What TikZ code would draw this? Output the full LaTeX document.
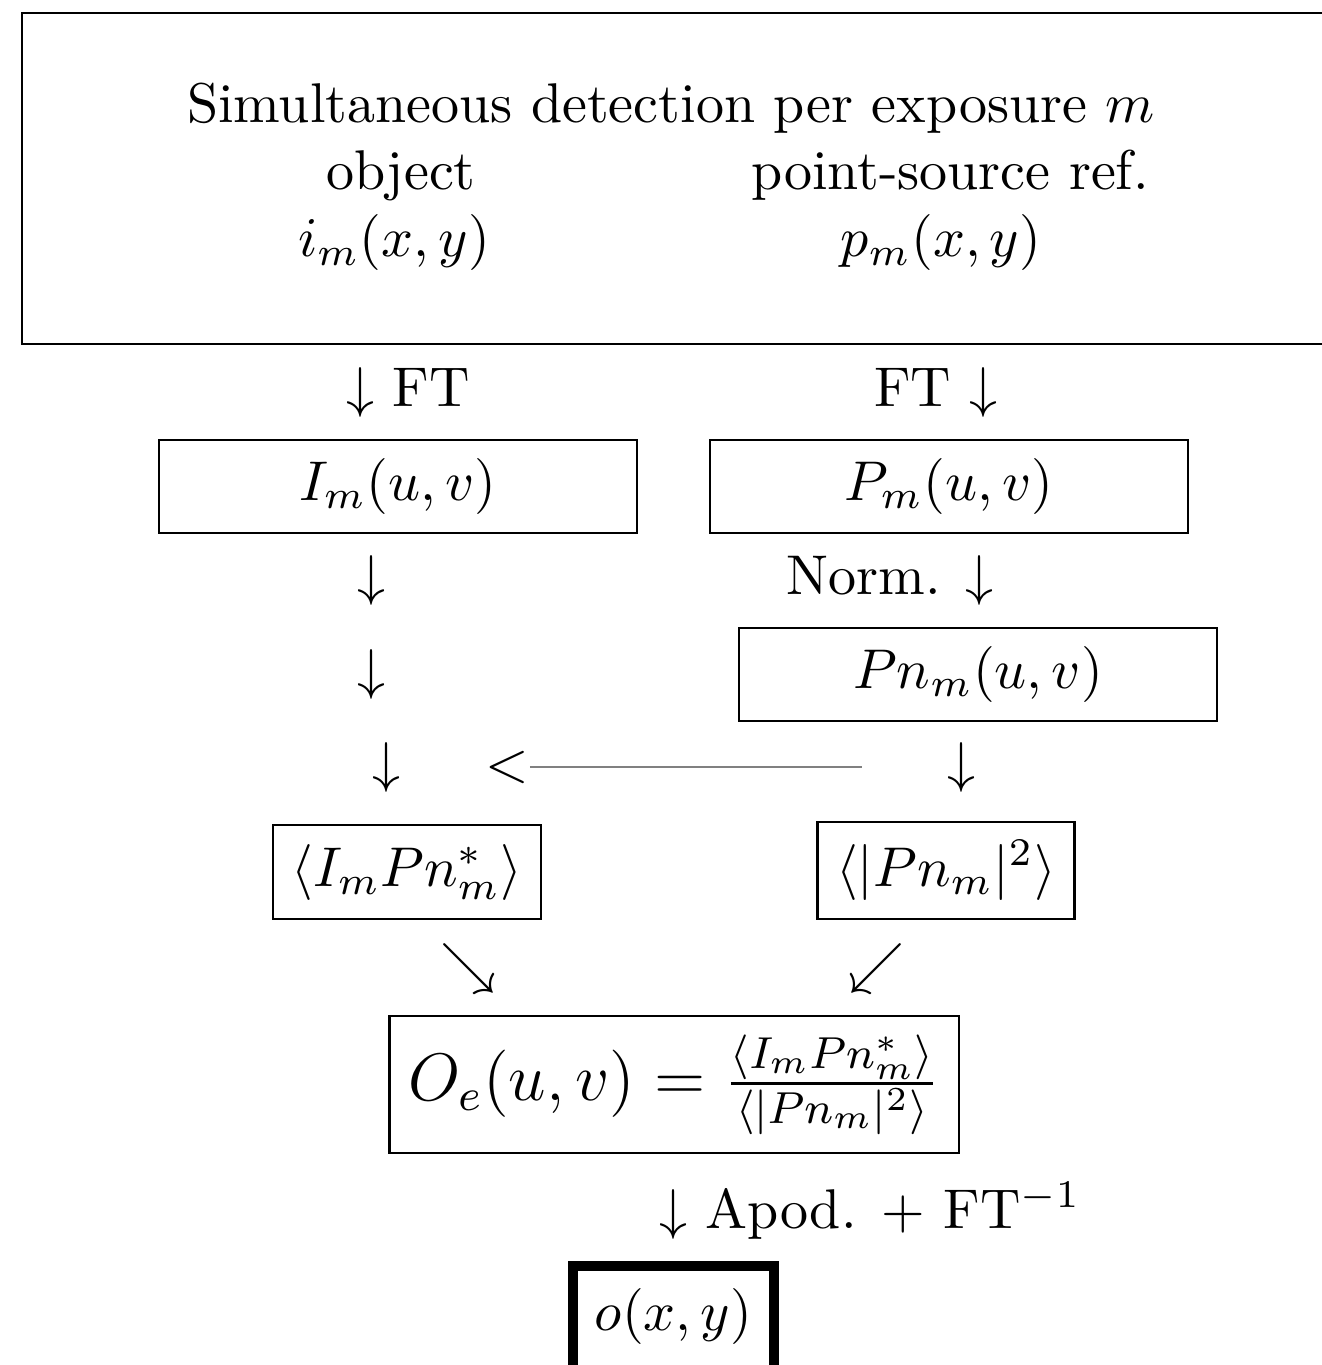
\documentclass[tikz,border=0pt]{standalone}
\usepackage{amsmath}
\usepackage{amssymb}
\usepackage{xcolor}
\usepackage{tikz}
\usetikzlibrary{positioning}

\begin{document}
\begin{tikzpicture}[
      x=0.17857pt, y=-0.17857pt,
      box/.style={draw, minimum width=3cm},
      tightbox/.style={draw, anchor=base},
      lbl/.style={anchor=base},
      resbox/.style={draw, line width=1.8pt, inner sep=4pt, text depth=5pt, anchor=base},
      link/.style={gray, line width=0.5pt}
    ]
      \useasboundingbox (0,0) rectangle (1322,1365);
      \clip (0,0) rectangle (1322,1365);

      \node[draw, anchor=north west, minimum width=236.4pt, minimum height=59.1pt, inner sep=0pt] (det) at (21,12) {};
      \node[lbl] (title) at (671,123) {Simultaneous detection per exposure $m$};
      \node[lbl] (obj) at (401,190) {object};
      \node[lbl] (ref) at (950,190) {point-source ref.};
      \node[lbl] (iobj) at (394,257) {$i_m(x,y)$};
      \node[lbl] (pref) at (941,257) {$p_m(x,y)$};

      \node[lbl] (ftl) at (408,407) {$\downarrow$ FT};
      \node[lbl] (ftr) at (936,407) {FT $\downarrow$};
      \node[box] (Im) at (398,486.5) {$I_m(u,v)$};
      \node[box] (Pm) at (949,486.5) {$P_m(u,v)$};

      \node[lbl] (dl1) at (371,594) {$\downarrow$};
      \node[lbl] (norm) at (890,594) {Norm. $\downarrow$};
      \node[lbl] (dl2) at (371,688) {$\downarrow$};
      \node[box] (Pn) at (978,674.5) {$Pn_m(u,v)$};

      \node[lbl] (dl3) at (386,781) {$\downarrow$};
      \node[lbl, inner xsep=0pt] (lt) at (507,781) {$<$};
      \coordinate (lend) at (862,767);
      \draw[link] (lt.east) -- (lt.east -| lend);
      \node[lbl] (dr3) at (961,781) {$\downarrow$};

      \node[tightbox] (IP) at (407,886) {$\langle I_m Pn_m^*\rangle$};
      \node[tightbox] (PP) at (946,886) {$\langle |Pn_m|^2\rangle$};
      \node[lbl] (se) at (468,982) {$\searrow$};
      \node[lbl] (sw) at (876,982) {$\swarrow$};

      \node[draw, font=\large] (Oe) at (674,1084.5) {$O_e(u,v) = \frac{\langle I_m Pn_m^*\rangle}{\langle|Pn_m|^2\rangle}$};
      \node[lbl] (apod) at (870,1228) {$\downarrow$ Apod. $+$ FT$^{-1}$};
      \node[resbox] (out) at (673.5,1330) {$o(x,y)$};
    \end{tikzpicture}
\end{document}
